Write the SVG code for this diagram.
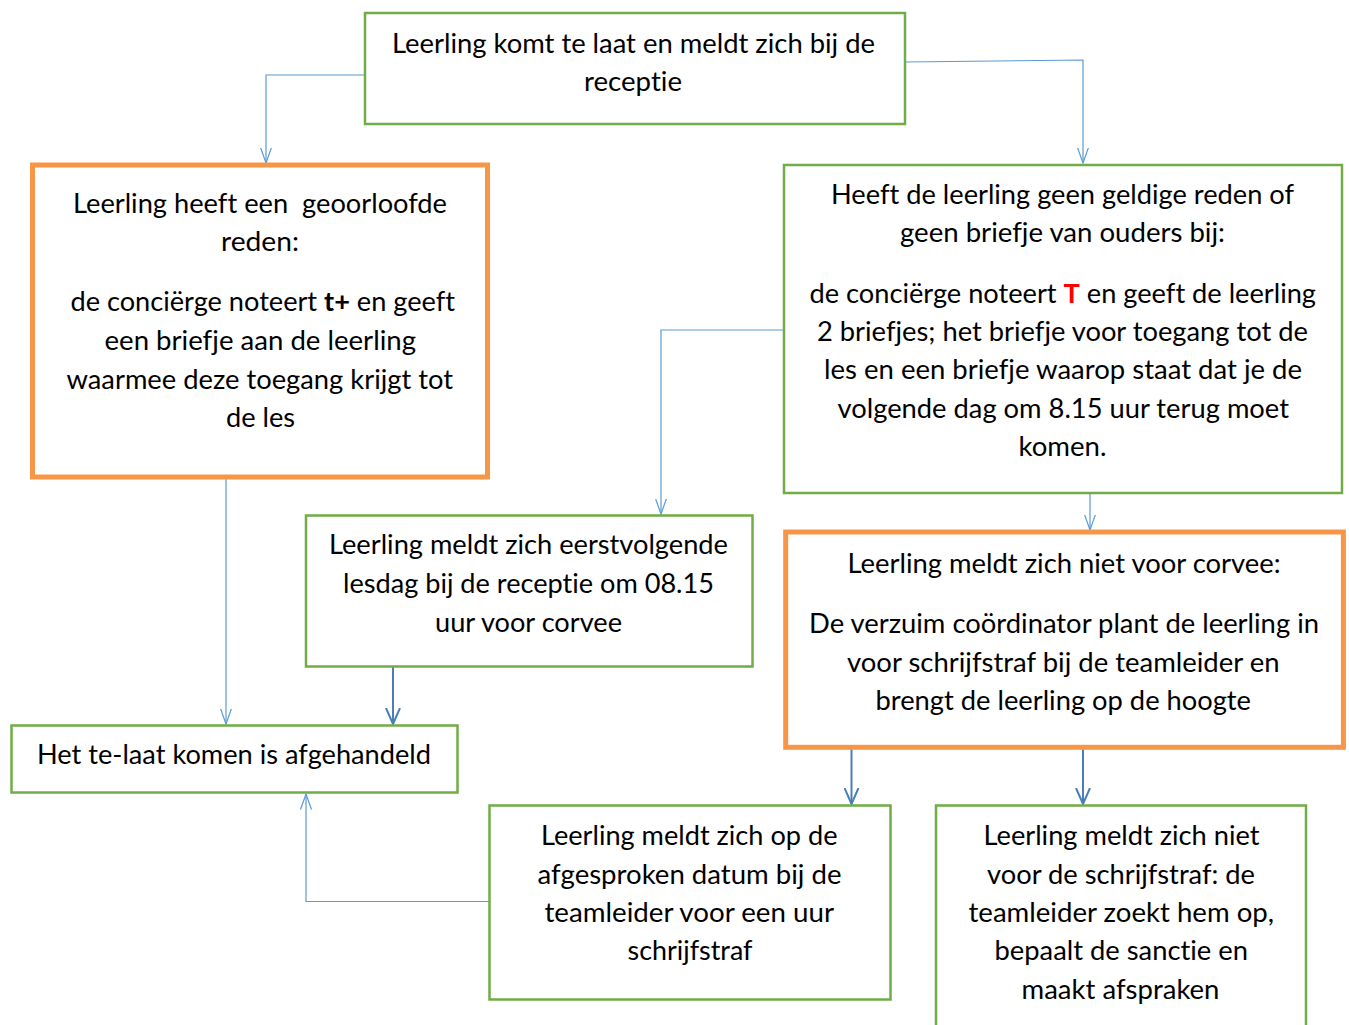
<svg xmlns="http://www.w3.org/2000/svg" width="1349" height="1025" viewBox="0 0 1349 1025">
<style>
.g{fill:#fff;stroke:#70AD47;stroke-width:2.5}
.o{fill:#fff;stroke:#F79646;stroke-width:5}
.t{font-family:Lato,"Liberation Sans",sans-serif;font-size:27px;fill:#000;font-variant-ligatures:none}
.c1{fill:none;stroke:#5B9BD5;stroke-width:1.2}
.c2{fill:none;stroke:#4A7EBB;stroke-width:2}
.b{font-weight:bold}
.r{font-weight:bold;fill:#FF0000}
</style>
<defs>
<marker id="a1" viewBox="0 0 16 12" refX="15.5" refY="6" markerWidth="16" markerHeight="12" markerUnits="userSpaceOnUse" orient="auto">
<path d="M0,0.5 L15.5,6 L0,11.5" fill="none" stroke="#5B9BD5" stroke-width="1.2"/>
</marker>
<marker id="a2" viewBox="0 0 17 16" refX="16" refY="8" markerWidth="17" markerHeight="16" markerUnits="userSpaceOnUse" orient="auto">
<path d="M0,1 L16,8 L0,15" fill="none" stroke="#4A7EBB" stroke-width="2"/>
</marker>
</defs>
<rect width="1349" height="1025" fill="#fff"/>
<g id="connectors">
<path class="c1" d="M365,75 H266 V163" marker-end="url(#a1)"/>
<path class="c1" d="M905,62 L1083,60 V163" marker-end="url(#a1)"/>
<path class="c1" d="M784,330 H661 V514" marker-end="url(#a1)"/>
<path class="c1" d="M226,479 V724" marker-end="url(#a1)"/>
<path class="c2" d="M393,667 V724" marker-end="url(#a2)"/>
<path class="c1" d="M1090,493 V530" marker-end="url(#a1)"/>
<path class="c2" d="M851.5,749 V804" marker-end="url(#a2)"/>
<path class="c2" d="M1083,749 V804" marker-end="url(#a2)"/>
<path class="c1" d="M489,901.5 H306 V794" marker-end="url(#a1)"/>
</g>
<g id="n1">
<rect class="g" x="365" y="13" width="540" height="111"/>
<text class="t" x="392" y="53" textLength="483" lengthAdjust="spacingAndGlyphs">Leerling komt te laat en meldt zich bij de</text>
<text class="t" x="584" y="91" textLength="98" lengthAdjust="spacingAndGlyphs">receptie</text>
</g>
<g id="n2">
<rect class="o" x="32.5" y="165" width="455" height="312"/>
<text class="t" x="73" y="213" textLength="374" lengthAdjust="spacingAndGlyphs" xml:space="preserve">Leerling heeft een  geoorloofde</text>
<text class="t" x="221" y="251" textLength="78" lengthAdjust="spacingAndGlyphs">reden:</text>
<text class="t" x="70.5" y="311" textLength="384.5" lengthAdjust="spacingAndGlyphs">de conciërge noteert <tspan class="b">t+</tspan> en geeft</text>
<text class="t" x="104.5" y="350" textLength="311.5" lengthAdjust="spacingAndGlyphs">een briefje aan de leerling</text>
<text class="t" x="66.5" y="389" textLength="386.5" lengthAdjust="spacingAndGlyphs">waarmee deze toegang krijgt tot</text>
<text class="t" x="226" y="427" textLength="69" lengthAdjust="spacingAndGlyphs">de les</text>
</g>
<g id="n3">
<rect class="g" x="784" y="165" width="558" height="328"/>
<text class="t" x="831" y="204" textLength="463" lengthAdjust="spacingAndGlyphs">Heeft de leerling geen geldige reden of</text>
<text class="t" x="900" y="242" textLength="325" lengthAdjust="spacingAndGlyphs">geen briefje van ouders bij:</text>
<text class="t" x="809.5" y="303" textLength="506.5" lengthAdjust="spacingAndGlyphs">de conciërge noteert <tspan class="r">T</tspan> en geeft de leerling</text>
<text class="t" x="817" y="341" textLength="491" lengthAdjust="spacingAndGlyphs">2 briefjes; het briefje voor toegang tot de</text>
<text class="t" x="824" y="379" textLength="478" lengthAdjust="spacingAndGlyphs">les en een briefje waarop staat dat je de</text>
<text class="t" x="837.5" y="418" textLength="451.5" lengthAdjust="spacingAndGlyphs">volgende dag om 8.15 uur terug moet</text>
<text class="t" x="1018.5" y="456" textLength="88" lengthAdjust="spacingAndGlyphs">komen.</text>
</g>
<g id="n4">
<rect class="g" x="306" y="515.5" width="446.5" height="151"/>
<text class="t" x="329" y="554" textLength="399" lengthAdjust="spacingAndGlyphs">Leerling meldt zich eerstvolgende</text>
<text class="t" x="343" y="593" textLength="371" lengthAdjust="spacingAndGlyphs">lesdag bij de receptie om 08.15</text>
<text class="t" x="435" y="632" textLength="187" lengthAdjust="spacingAndGlyphs">uur voor corvee</text>
</g>
<g id="n5">
<rect class="o" x="785.7" y="532" width="557.7" height="215.3"/>
<text class="t" x="847.5" y="573" textLength="433" lengthAdjust="spacingAndGlyphs">Leerling meldt zich niet voor corvee:</text>
<text class="t" x="809" y="633" textLength="510" lengthAdjust="spacingAndGlyphs">De verzuim coördinator plant de leerling in</text>
<text class="t" x="847" y="672" textLength="432.5" lengthAdjust="spacingAndGlyphs">voor schrijfstraf bij de teamleider en</text>
<text class="t" x="875.5" y="710" textLength="375.5" lengthAdjust="spacingAndGlyphs">brengt de leerling op de hoogte</text>
</g>
<g id="n6">
<rect class="g" x="11.5" y="725.5" width="446" height="67"/>
<text class="t" x="37" y="764" textLength="394" lengthAdjust="spacingAndGlyphs">Het te-laat komen is afgehandeld</text>
</g>
<g id="n7">
<rect class="g" x="489.5" y="805.5" width="401" height="194"/>
<text class="t" x="541" y="845" textLength="296.5" lengthAdjust="spacingAndGlyphs">Leerling meldt zich op de</text>
<text class="t" x="537.5" y="884" textLength="304" lengthAdjust="spacingAndGlyphs">afgesproken datum bij de</text>
<text class="t" x="544.5" y="922" textLength="289.5" lengthAdjust="spacingAndGlyphs">teamleider voor een uur</text>
<text class="t" x="627.5" y="960" textLength="125" lengthAdjust="spacingAndGlyphs">schrijfstraf</text>
</g>
<g id="n8">
<rect class="g" x="936" y="805.5" width="370" height="232"/>
<text class="t" x="983.5" y="845" textLength="276" lengthAdjust="spacingAndGlyphs">Leerling meldt zich niet</text>
<text class="t" x="987" y="884" textLength="268" lengthAdjust="spacingAndGlyphs">voor de schrijfstraf: de</text>
<text class="t" x="968.5" y="922" textLength="305.5" lengthAdjust="spacingAndGlyphs">teamleider zoekt hem op,</text>
<text class="t" x="994.5" y="960" textLength="253.5" lengthAdjust="spacingAndGlyphs">bepaalt de sanctie en</text>
<text class="t" x="1021.5" y="999" textLength="198" lengthAdjust="spacingAndGlyphs">maakt afspraken</text>
</g>
</svg>
